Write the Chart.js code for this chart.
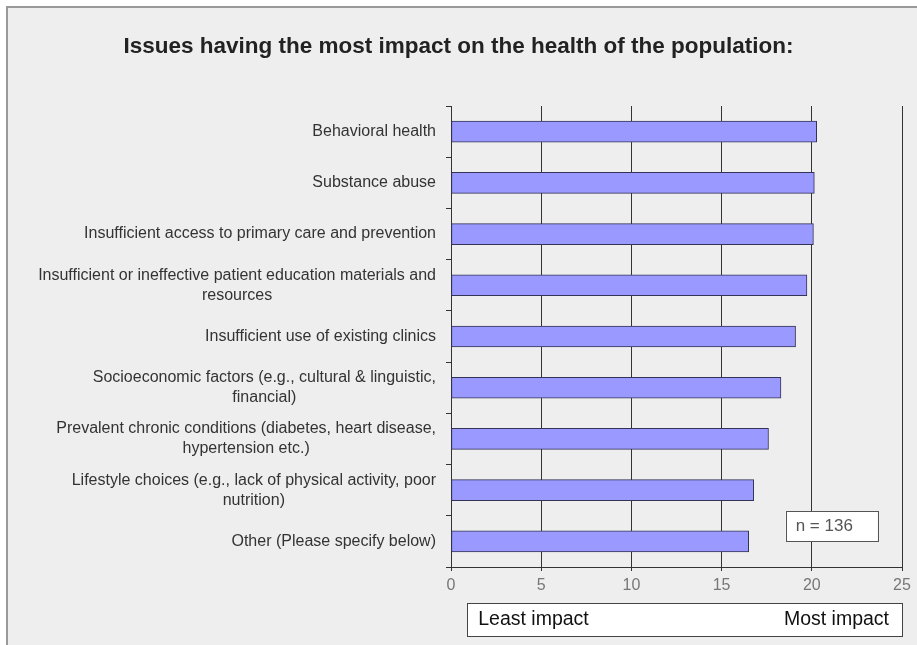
<!DOCTYPE html>
<html>
<head>
<meta charset="utf-8">
<script src="https://cdn.jsdelivr.net/npm/chart.js@4.4.1/dist/chart.umd.min.js"></script>
<style>
  html, body { margin: 0; padding: 0; background: #fff; }
  #wrap { width: 917px; height: 645px; }
</style>
</head>
<body>
<div id="wrap"><canvas id="myChart" width="917" height="645"></canvas></div>
<script>
// categories (top to bottom) and mean scores
const issues = [
  ['Behavioral health'],
  ['Substance abuse'],
  ['Insufficient access to primary care and prevention'],
  ['Insufficient or ineffective patient education materials and', 'resources'],
  ['Insufficient use of existing clinics'],
  ['Socioeconomic factors (e.g., cultural & linguistic,', 'financial)'],
  ['Prevalent chronic conditions (diabetes, heart disease,', 'hypertension etc.)'],
  ['Lifestyle choices (e.g., lack of physical activity, poor', 'nutrition)'],
  ['Other (Please specify below)']
];
const scores = [20.27, 20.14, 20.09, 19.73, 19.1, 18.29, 17.6, 16.78, 16.5];
const titleText = 'Issues having the most impact on the health of the population:';
const sampleText = 'n = 136';
const scaleLeft = 'Least impact';
const scaleRight = 'Most impact';

const FONT = "'Liberation Sans', Arial, sans-serif";

// background + frame, title, category labels, n box and the impact key
const decor = {
  id: 'decor',
  beforeDraw(chart) {
    const c = chart.ctx;
    c.save();
    c.fillStyle = '#ffffff';
    c.fillRect(0, 0, chart.width, chart.height);
    c.fillStyle = '#eeeeee';
    c.fillRect(6, 6, chart.width - 6, chart.height - 6);
    c.strokeStyle = '#999999';
    c.lineWidth = 2;
    c.beginPath();
    c.moveTo(7, chart.height);
    c.lineTo(7, 7);
    c.lineTo(chart.width, 7);
    c.stroke();
    c.restore();
  },
  afterDraw(chart) {
    const c = chart.ctx;
    const y = chart.scales.y;
    const x = chart.scales.x;
    const area = chart.chartArea;
    c.save();
    // title, centred on the page
    c.font = 'bold 22.5px ' + FONT;
    c.fillStyle = '#222222';
    c.textAlign = 'center';
    c.textBaseline = 'alphabetic';
    c.fillText(titleText, chart.width / 2, 53);

    // category labels, right aligned block, lines centred on each other
    c.font = '16px ' + FONT;
    c.fillStyle = '#333333';
    c.textBaseline = 'middle';
    const lh = 20;
    issues.forEach((lines, i) => {
      const cy = y.getPixelForTick(i);
      const right = area.left - 15;
      const widths = lines.map(l => c.measureText(l).width);
      const maxW = Math.max(...widths);
      lines.forEach((l, j) => {
        const ly = cy + (j - (lines.length - 1) / 2) * lh;
        c.textAlign = 'center';
        c.fillText(l, right - maxW / 2, ly);
      });
    });

    // n box
    const nx1 = x.getPixelForValue(18.55), nx2 = x.getPixelForValue(23.65);
    c.fillStyle = '#ffffff';
    c.fillRect(nx1, 511, nx2 - nx1, 30);
    c.strokeStyle = '#555555';
    c.lineWidth = 1;
    c.strokeRect(Math.round(nx1) + 0.5, 511.5, Math.round(nx2 - nx1), 30);
    c.fillStyle = '#555555';
    c.font = '17px ' + FONT;
    c.textAlign = 'left';
    c.fillText(sampleText, nx1 + 10, 526);

    // impact key under the axis
    const kx1 = x.getPixelForValue(0.9), kx2 = area.right;
    c.fillStyle = '#ffffff';
    c.fillRect(kx1, 603, kx2 - kx1, 33);
    c.strokeStyle = '#444444';
    c.strokeRect(Math.round(kx1) + 0.5, 603.5, Math.round(kx2 - kx1), 33);
    c.fillStyle = '#111111';
    c.font = '19.5px ' + FONT;
    c.textAlign = 'left';
    c.fillText(scaleLeft, kx1 + 11, 620);
    c.textAlign = 'right';
    c.fillText(scaleRight, kx2 - 13, 620);
    c.restore();
  }
};

const ctx = document.getElementById('myChart').getContext('2d');
const myChart = new Chart(ctx, {
  type: 'bar',
  data: {
    labels: issues,
    datasets: [{
      data: scores,
      backgroundColor: '#9999ff',
      borderColor: '#333355',
      borderWidth: 1,
      borderSkipped: false,
      barThickness: 21
    }]
  },
  options: {
    indexAxis: 'y',
    responsive: false,
    animation: false,
    layout: { padding: { left: 0, right: 15, top: 106, bottom: 48 } },
    plugins: {
      legend: { display: false },
      tooltip: { enabled: false },
      title: { display: false }
    },
    scales: {
      x: {
        min: 0,
        max: 25,
        ticks: {
          stepSize: 5,
          color: '#777777',
          font: { family: FONT, size: 16 },
          padding: 5
        },
        grid: {
          color: '#333333',
          tickLength: 4,
          tickColor: '#333333'
        },
        border: { color: '#333333' },
        afterFit(scale) { scale.height = 30; }
      },
      y: {
        ticks: { display: false },
        grid: {
          offset: true,
          drawOnChartArea: false,
          tickLength: 5,
          tickColor: '#333333'
        },
        border: { color: '#333333' },
        afterFit(scale) { scale.width = 451; }
      }
    }
  },
  plugins: [decor]
});
</script>
</body>
</html>
